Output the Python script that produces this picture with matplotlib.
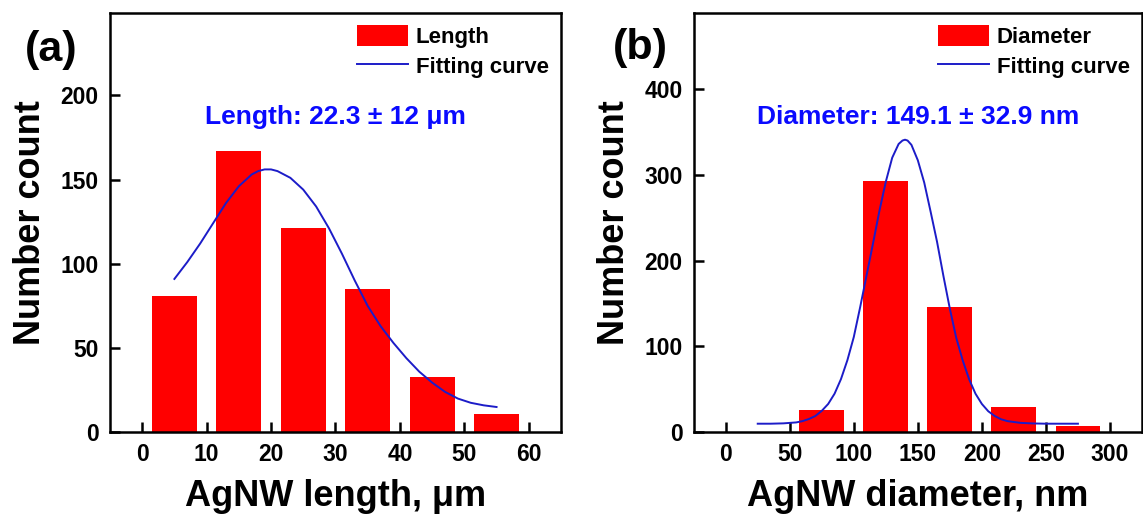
# AgNW length / diameter histograms with fitting curves

import numpy as np
import matplotlib.pyplot as plt

plt.rcParams['font.family'] = ['Liberation Sans', 'DejaVu Sans']
plt.rcParams['font.weight'] = 'bold'

# --- panel (a): length histogram ---
len_bins = [5, 15, 25, 35, 45, 55]
len_counts = [81, 167, 121, 85, 33, 11]
len_fit_x = [5, 7, 9, 11, 13, 15, 17, 18, 19, 20, 21, 23, 25, 27, 29, 31, 33,
             35, 37, 39, 41, 43, 45, 47, 49, 51, 53, 55]
len_fit_y = [91, 101, 112, 124, 136, 146, 153, 155, 156, 156, 155, 151, 144,
             134, 121, 106, 90, 75, 63, 53, 44, 36, 29.5, 24, 20, 17.5, 16, 15]

# --- panel (b): diameter histogram ---
dia_bins = [75, 125, 175, 225, 275]
dia_counts = [26, 293, 146, 30, 7]
dia_fit_x = [25, 35, 45, 55, 60, 65, 70, 75, 80, 85, 90, 95, 100, 105, 110,
             115, 120, 125, 130, 135, 138, 140, 142, 145, 150, 155, 160, 165,
             170, 175, 180, 185, 190, 195, 200, 205, 210, 215, 220, 230, 240,
             250, 260, 275]
dia_fit_y = [10, 10, 10.4, 11.5, 13, 15.5, 19, 25, 33, 45, 62, 84, 111, 146, 183,
             220, 258, 292, 320, 336, 340, 341, 340, 335, 317, 291, 257, 222,
             182, 144, 110, 84, 62, 45, 33, 24.5, 19, 15.2, 13, 11, 10.3, 10,
             10, 10]

bar_color = '#ff0000'
fit_color = '#1c1cc8'
txt_color = '#0a0aff'

fig = plt.figure(figsize=(11.43, 5.25), dpi=100)
ax1 = fig.add_axes([0.0962, 0.1766, 0.3946, 0.7992])
ax2 = fig.add_axes([0.6069, 0.1766, 0.3922, 0.7992])


def style_axes(ax, xlim, ylim, xticks, yticks, xlabel):
    ax.set_xlim(*xlim)
    ax.set_ylim(*ylim)
    ax.set_xticks(xticks)
    ax.set_yticks(yticks)
    ax.tick_params(direction='in', length=7, width=1.8, pad=8, labelsize=16.5)
    for s in ax.spines.values():
        s.set_linewidth(1.8)
    ax.set_xlabel(xlabel, fontsize=26, fontweight='bold', labelpad=9)
    ax.set_ylabel('Number count', fontsize=26, fontweight='bold', labelpad=9)


def add_legend(ax, bars, line, name):
    ax.legend([bars, line], [name, 'Fitting curve'], loc='upper right',
              frameon=False, fontsize=16, handlelength=2.3, handleheight=1.1,
              handletextpad=0.35, labelspacing=0.3, borderpad=0,
              borderaxespad=0.55)


# panel (a)
b1 = ax1.bar(len_bins, len_counts, width=7, color=bar_color)
l1, = ax1.plot(len_fit_x, len_fit_y, color=fit_color, lw=1.4)
style_axes(ax1, (-5, 65), (0, 249), range(0, 61, 10), range(0, 201, 50),
           'AgNW length, \u03bcm')
add_legend(ax1, b1, l1, 'Length')
ax1.text(30, 187, 'Length: 22.3 \u00b1 12 \u03bcm', color=txt_color,
         fontsize=19, fontweight='bold', ha='center', va='center')

# panel (b)
b2 = ax2.bar(dia_bins, dia_counts, width=35, color=bar_color)
l2, = ax2.plot(dia_fit_x, dia_fit_y, color=fit_color, lw=1.4)
style_axes(ax2, (-25, 325), (0, 489), range(0, 301, 50), range(0, 401, 100),
           'AgNW diameter, nm')
add_legend(ax2, b2, l2, 'Diameter')
ax2.text(150, 367, 'Diameter: 149.1 \u00b1 32.9 nm', color=txt_color,
         fontsize=19, fontweight='bold', ha='center', va='center')

fig.text(51 / 1143, 1 - 50 / 525, '(a)', fontsize=31, fontweight='bold',
         ha='center', va='center')
fig.text(640 / 1143, 1 - 48 / 525, '(b)', fontsize=31, fontweight='bold',
         ha='center', va='center')

fig.savefig('out.png', dpi=100)
